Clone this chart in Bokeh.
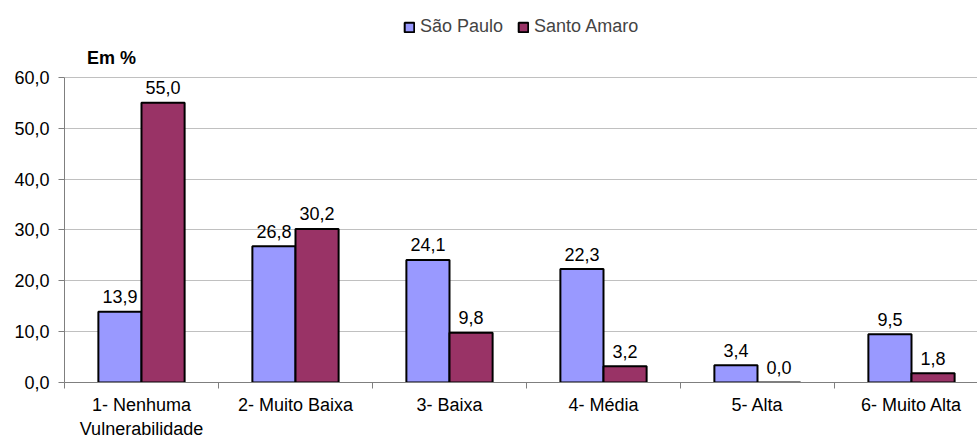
from bokeh.plotting import figure
from bokeh.models import (ColumnDataSource, FixedTicker, CustomJSTickFormatter,
                          Range1d, Legend, LegendItem)
from bokeh.embed import file_html
from bokeh.resources import INLINE
from bokeh.core.properties import value
import numpy as np

categories = ["1- Nenhuma\nVulnerabilidade", "2- Muito Baixa", "3- Baixa",
              "4- Média", "5- Alta", "6- Muito Alta"]
sao_paulo = [13.9, 26.8, 24.1, 22.3, 3.4, 9.5]
santo_amaro = [55.0, 30.2, 9.8, 3.2, 0.0, 1.8]
y_ticks = [0, 10, 20, 30, 40, 50, 60]
unit_label = "Em %"

FONT = "Liberation Sans"
FS = "18px"
SP_COLOR = "#9999FF"
SA_COLOR = "#993366"
AXIS_COLOR = "#7f7f7f"

W, H = 977, 441
LEFT, TOP, BOTTOM = 64, 0, 383        # frame edges in pixels
PX_PER_UNIT = (BOTTOM - 77) / 60.0    # 60 sits at y=77
CAT_PX = 154.0

y_max = 60 + (77 - TOP) / PX_PER_UNIT
x_max = (W - LEFT) / CAT_PX

centers = np.arange(len(categories)) + 0.5
bw = 0.28
fmt = lambda v: f"{v:.1f}".replace(".", ",")
sp_src = ColumnDataSource(dict(x=centers - bw / 2, top=sao_paulo,
                               lab=[fmt(v) for v in sao_paulo]))
sa_src = ColumnDataSource(dict(x=centers + bw / 2, top=santo_amaro,
                               lab=[fmt(v) for v in santo_amaro]))

p = figure(width=W, height=H, output_backend="svg", toolbar_location=None,
           x_range=Range1d(0, x_max), y_range=Range1d(0, y_max),
           min_border_left=LEFT, min_border_right=0, min_border_top=TOP,
           min_border_bottom=H - BOTTOM)
p.outline_line_color = None
p.background_fill_color = "white"
p.border_fill_color = "white"

r_sp = p.vbar(x="x", top="top", width=bw, source=sp_src, fill_color=SP_COLOR,
              line_color="black", line_width=2)
r_sa = p.vbar(x="x", top="top", width=bw, source=sa_src, fill_color=SA_COLOR,
              line_color="black", line_width=2)

for src in (sp_src, sa_src):
    p.text(x="x", y="top", text="lab", source=src, text_align="center",
           text_baseline="alphabetic", y_offset=-15, text_font=value(FONT),
           text_font_size=value(FS), text_color="black")

# "Em %" unit label above the y axis
p.text(x=[0.305], y=[63.7], text=[unit_label], text_align="center",
       text_baseline="middle", text_font=value(FONT), text_font_size=value(FS),
       text_font_style="bold", text_color="black")

# y axis
p.yaxis.ticker = FixedTicker(ticks=y_ticks)
p.yaxis.bounds = (0, 60)
p.yaxis.formatter = CustomJSTickFormatter(code="return tick.toFixed(1).replace('.', ',');")
p.yaxis.axis_line_color = AXIS_COLOR
p.yaxis.major_tick_line_color = AXIS_COLOR
p.yaxis.major_tick_out = 6
p.yaxis.major_tick_in = 0
p.yaxis.minor_tick_line_color = None
p.yaxis.major_label_standoff = 9
p.yaxis.major_label_text_font = FONT
p.yaxis.major_label_text_font_size = FS
p.yaxis.major_label_text_color = "black"

# x axis
p.xaxis.ticker = FixedTicker(ticks=list(centers),
                             minor_ticks=list(range(len(categories) + 1)))
p.xaxis.major_label_overrides = {float(c): lab for c, lab in zip(centers, categories)}
p.xaxis.axis_line_color = AXIS_COLOR
p.xaxis.major_tick_line_color = None
p.xaxis.major_tick_out = 0
p.xaxis.major_tick_in = 0
p.xaxis.minor_tick_line_color = AXIS_COLOR
p.xaxis.minor_tick_out = 6
p.xaxis.minor_tick_in = 0
p.xaxis.major_label_standoff = 6
p.xaxis.major_label_text_font = FONT
p.xaxis.major_label_text_font_size = FS
p.xaxis.major_label_text_color = "black"
p.xaxis.major_label_text_line_height = 1.2

p.xgrid.grid_line_color = None
p.ygrid.ticker = FixedTicker(ticks=y_ticks)
p.ygrid.grid_line_color = "#c0c0c0"
p.ygrid.grid_line_width = 1

legend = Legend(items=[LegendItem(label="São Paulo", renderers=[r_sp]),
                       LegendItem(label="Santo Amaro", renderers=[r_sa])],
                orientation="horizontal", location=(339, BOTTOM - 38),
                glyph_width=12, glyph_height=12, label_standoff=5, spacing=14,
                padding=0, margin=0, border_line_color=None,
                background_fill_alpha=0, label_text_font=FONT,
                label_text_font_size=FS, label_height=18)
p.add_layout(legend, "center")

open("out.html", "w").write(file_html(p, INLINE))
